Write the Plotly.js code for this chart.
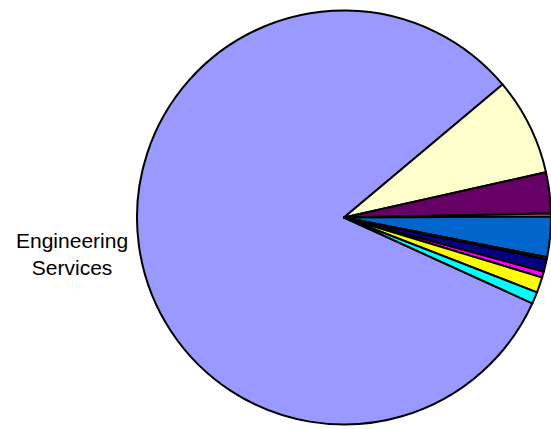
<!DOCTYPE html>
<html>
<head>
<meta charset="utf-8">
<script src="https://cdn.plot.ly/plotly-3.0.1.min.js"></script>
<style>html,body{margin:0;padding:0;background:#fff;}#chart{width:551px;height:429px;}</style>
</head>
<body>
<div id="chart"></div>
<script>
// Slices, clockwise (percent of total)
var categories = ["Engineering Services", "Category 2", "Category 3", "Category 4", "Category 5",
                  "Category 6", "Category 7", "Category 8", "Category 9", "Category 10"];
var shares = [82.08, 7.61, 3.19, 0.25, 3.14, 0.17, 0.97, 0.46, 1.21, 0.92];
var sliceColors = ["#9999FF", "#FFFFCC", "#660066", "#FF8080", "#0066CC",
                   "#CCCCFF", "#000080", "#FF00FF", "#FFFF00", "#00FFFF"];
var shownLabel = categories[0];

var trace = {
  type: "pie",
  labels: categories,
  values: shares,
  sort: false,
  direction: "clockwise",
  rotation: 114.5,
  textinfo: "none",
  hoverinfo: "none",
  marker: {colors: sliceColors, line: {color: "#000000", width: 2}},
  domain: {x: [0.2486, 1], y: [0.0105, 0.9755]}
};

var layout = {
  width: 551,
  height: 429,
  margin: {l: 0, r: 0, t: 0, b: 0},
  showlegend: false,
  paper_bgcolor: "#ffffff",
  annotations: [{
    text: shownLabel.replace(" ", "<br>"),
    xref: "paper", yref: "paper",
    x: 72 / 551, y: 1 - 254 / 429,
    xanchor: "center", yanchor: "middle",
    showarrow: false,
    align: "center",
    font: {family: "Liberation Sans, Arial, sans-serif", size: 21, color: "#000000"}
  }]
};

Plotly.newPlot("chart", [trace], layout, {staticPlot: true, displayModeBar: false});
</script>
</body>
</html>
